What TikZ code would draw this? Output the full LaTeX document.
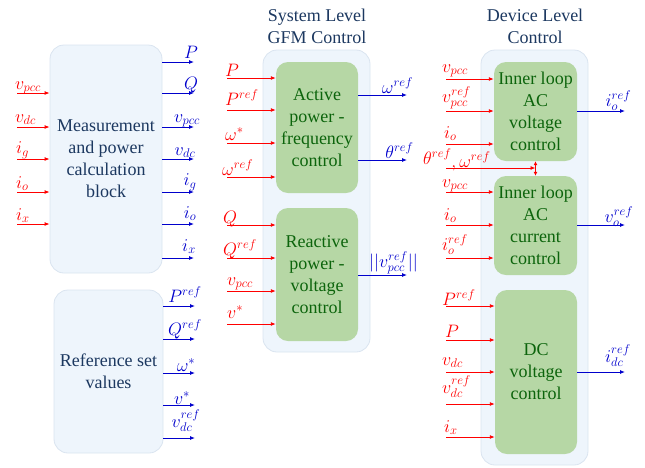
\documentclass[tikz,border=0pt]{standalone}
\usepackage{fix-cm}
\usepackage{fontspec}
\setmainfont{Liberation Serif}
\usetikzlibrary{arrows.meta}

\definecolor{inred}{RGB}{255,0,0}
\definecolor{outblue}{RGB}{0,0,204}
\definecolor{panelfill}{RGB}{238,245,252}
\definecolor{panelline}{RGB}{218,228,240}
\definecolor{ctrlfill}{RGB}{182,215,165}
\definecolor{ctrltext}{RGB}{12,100,12}
\definecolor{blocktext}{RGB}{28,56,96}

% signal entering a block: arrow from a free start point to the block's west side
% #1 name, #2 block, #3 start x, #4 line y, #5 label x, #6 label baseline y, #7 label
\newcommand\FeedIn[7]{%
  \coordinate (#1) at (#3,#4);
  \draw[inar] (#1) -- (#1 -| #2.west);
  \node[inlab] (#1-lab) at (#5,#6) {#7};}
% signal leaving a block: arrow from the block's east side to a free end point
% #1 name, #2 block, #3 end x, #4 line y, #5 label centre x, #6 label baseline y, #7 label
\newcommand\FeedOut[7]{%
  \coordinate (#1) at (#3,#4);
  \draw[outar] (#1 -| #2.east) -- (#1);
  \node[outlab] (#1-lab) at (#5,#6) {#7};}

\begin{document}
\begin{tikzpicture}[x=1pt,y=-1pt,
  font=\fontsize{18}{22}\selectfont,
  panel/.style={draw=panelline,fill=panelfill,rounded corners=14pt,line width=0.8pt},
  block/.style={panel,text=blocktext,align=center,inner sep=0pt},
  ctrl/.style={fill=ctrlfill,rounded corners=12pt,text=ctrltext,align=center,inner sep=0pt},
  title/.style={text=blocktext,align=center,inner sep=0pt},
  inar/.style={draw=inred,line width=0.9pt,-{Latex[length=5pt,width=4pt]}},
  outar/.style={draw=outblue,line width=0.9pt,-{Latex[length=5pt,width=4pt]}},
  inlab/.style={text=inred,anchor=base west,inner sep=0pt},
  outlab/.style={text=outblue,anchor=base,inner sep=0pt}]
\useasboundingbox (0,0) rectangle (645,467);

% left column: measurement and reference blocks
\node[block,minimum width=112pt,minimum height=228pt] (meas) at (106,159)
  {Measurement\\and power\\calculation\\block};
\node[block,minimum width=109pt,minimum height=163pt] (refs) at (108.5,371.5)
  {Reference set\\values};

% panels and their titles
\node[panel,minimum width=107pt,minimum height=302pt] (sys) at (316.5,201) {};
\node[panel,minimum width=107pt,minimum height=415pt] (dev) at (534.5,257.5) {};
\node[title] (systitle) at (317,26.5) {System Level\\GFM Control};
\node[title] (devtitle) at (535,26.5) {Device Level\\Control};

% control blocks
\node[ctrl,minimum width=82pt,minimum height=131pt] (act) at (317,127.5)
  {Active\\power -\\frequency\\control};
\node[ctrl,minimum width=82pt,minimum height=133pt] (rea) at (317,274.5)
  {Reactive\\power -\\voltage\\control};
\node[ctrl,minimum width=83pt,minimum height=99pt] (acv) at (535.5,111.5)
  {Inner loop\\AC\\voltage\\control};
\node[ctrl,minimum width=83pt,minimum height=99pt] (acc) at (535.5,225.5)
  {Inner loop\\AC\\current\\control};
\node[ctrl,minimum width=82pt,minimum height=164pt] (dcv) at (536,372)
  {DC\\voltage\\control};

% measurement block signals
\FeedIn{mi1}{meas}{17}{93}{15}{89}{$v_{pcc}$}
\FeedIn{mi2}{meas}{17}{127}{15}{122}{$v_{dc}$}
\FeedIn{mi3}{meas}{17}{159}{16}{153.5}{$i_g$}
\FeedIn{mi4}{meas}{17}{192}{16}{188}{$i_o$}
\FeedIn{mi5}{meas}{17}{224}{16}{220}{$i_x$}
\FeedOut{mo1}{meas}{194}{62}{191}{58}{$P$}
\FeedOut{mo2}{meas}{194}{93}{191}{89}{$Q$}
\FeedOut{mo3}{meas}{194}{127}{187}{122}{$v_{pcc}$}
\FeedOut{mo4}{meas}{194}{159}{185}{155}{$v_{dc}$}
\FeedOut{mo5}{meas}{194}{192}{190}{185.5}{$i_g$}
\FeedOut{mo6}{meas}{194}{224}{190}{218}{$i_o$}
\FeedOut{mo7}{meas}{194}{258}{189}{251}{$i_x$}

% reference set values
\FeedOut{ro1}{refs}{195}{306}{185}{302}{$P^{ref}$}
\FeedOut{ro2}{refs}{195}{339}{185}{335}{$Q^{ref}$}
\FeedOut{ro3}{refs}{195}{373}{186}{371.5}{$\omega^*$}
\FeedOut{ro4}{refs}{195}{405}{182}{404}{$v^*$}
\FeedOut{ro5}{refs}{195}{438}{186}{427}{$v_{dc}^{ref}$}

% active power - frequency control
\FeedIn{ai1}{act}{227}{78}{225}{76}{$P$}
\FeedIn{ai2}{act}{227}{110}{225}{105}{$P^{ref}$}
\FeedIn{ai3}{act}{227}{143}{225}{140}{$\omega^*$}
\FeedIn{ai4}{act}{227}{177}{222}{175}{$\omega^{ref}$}
\FeedOut{ao1}{act}{407}{95}{397.5}{93}{$\omega^{ref}$}
\FeedOut{ao2}{act}{407}{160}{399.5}{158}{$\theta^{ref}$}

% reactive power - voltage control
\FeedIn{qi1}{rea}{227}{225}{223}{223}{$Q$}
\FeedIn{qi2}{rea}{227}{258}{223}{255}{$Q^{ref}$}
\FeedIn{qi3}{rea}{227}{291}{227}{285}{$v_{pcc}$}
\FeedIn{qi4}{rea}{227}{324}{227}{318}{$v^*$}
\FeedOut{qo1}{rea}{407}{275}{393.5}{267.5}{$||v_{pcc}^{ref}||$}

% inner loop AC voltage control
\FeedIn{vi1}{acv}{446}{79}{442}{72}{$v_{pcc}$}
\FeedIn{vi2}{acv}{446}{111}{442}{102}{$v_{pcc}^{ref}$}
\FeedIn{vi3}{acv}{446}{144}{444}{138}{$i_o$}
\FeedOut{vo1}{acv}{625}{111}{618.5}{106}{$i_o^{ref}$}

% angle and frequency references shared by both inner loops
\coordinate (th) at (446,168);
\draw[inar] (th) -- (th -| acv.south);
\draw[draw=inred,line width=0.9pt,{Latex[length=4pt,width=4pt]}-{Latex[length=4pt,width=4pt]}]
  (acv.south) -- (acc.north);
\node[inlab] (th-lab) at (423,164.5) {$\theta^{ref}$\raisebox{-2.5pt}{$,\omega^{ref}$}};

% inner loop AC current control
\FeedIn{ci1}{acc}{446}{192}{442}{187}{$v_{pcc}$}
\FeedIn{ci2}{acc}{446}{225}{444}{220}{$i_o$}
\FeedIn{ci3}{acc}{446}{258}{442}{250}{$i_o^{ref}$}
\FeedOut{co1}{acc}{625}{225}{619}{222}{$v_o^{ref}$}

% DC voltage control
\FeedIn{di1}{dcv}{446}{306}{442}{305}{$P^{ref}$}
\FeedIn{di2}{dcv}{446}{340}{445}{337}{$P$}
\FeedIn{di3}{dcv}{446}{372}{442}{365}{$v_{dc}$}
\FeedIn{di4}{dcv}{446}{404}{442}{393}{$v_{dc}^{ref}$}
\FeedIn{di5}{dcv}{446}{437}{444}{432}{$i_x$}
\FeedOut{do1}{dcv}{625}{372}{618}{362}{$i_{dc}^{ref}$}
\end{tikzpicture}
\end{document}
